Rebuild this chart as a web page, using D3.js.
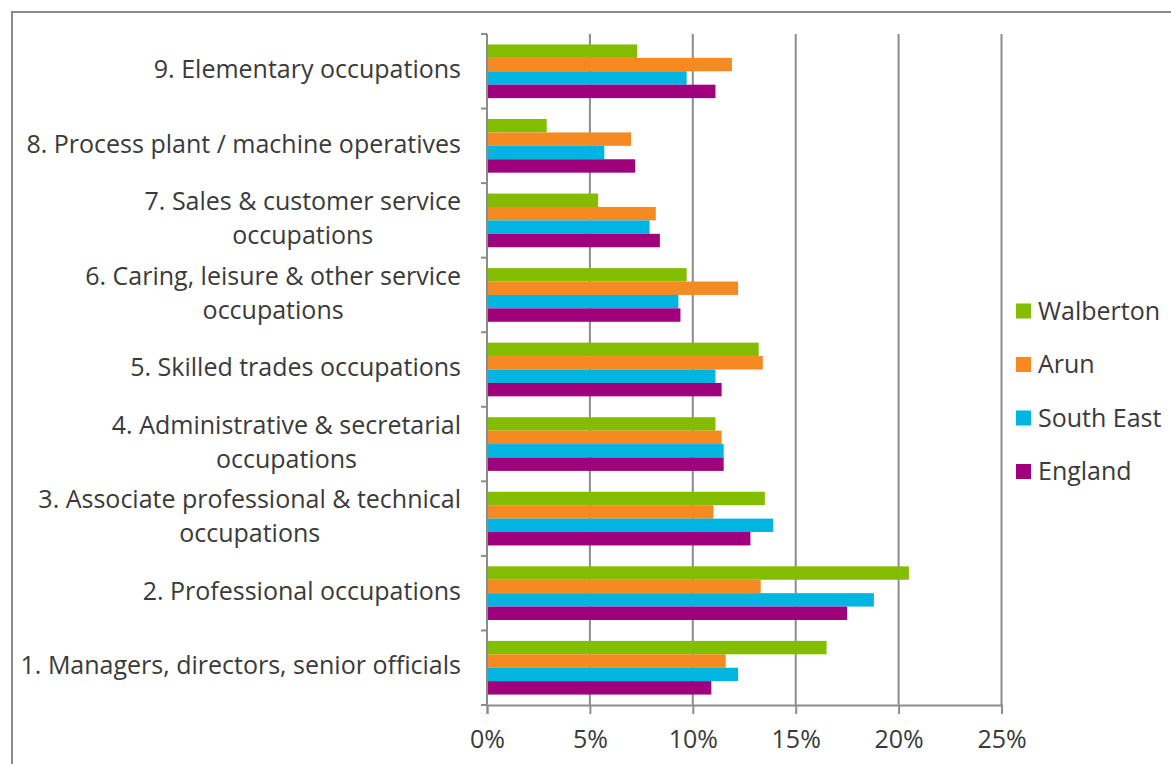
<!DOCTYPE html>
<html>
<head>
<meta charset="utf-8">
<script src="https://cdn.jsdelivr.net/npm/d3@7"></script>
<style>
  body { margin: 0; background: #fff; }
  svg { display: block; }
</style>
</head>
<body>
<svg id="chart"></svg>
<script>
// categories listed bottom (1) to top (9)
const categories = [
    ['1. Managers, directors, senior officials'],
    ['2. Professional occupations'],
    ['3. Associate professional & technical', 'occupations'],
    ['4. Administrative & secretarial', 'occupations'],
    ['5. Skilled trades occupations'],
    ['6. Caring, leisure & other service', 'occupations'],
    ['7. Sales & customer service', 'occupations'],
    ['8. Process plant / machine operatives'],
    ['9. Elementary occupations']
];

const seriesNames = ['Walberton', 'Arun', 'South East', 'England'];

const walberton = [16.5, 20.5, 13.5, 11.1, 13.2, 9.7, 5.4, 2.9, 7.3];
const arun = [11.6, 13.3, 11.0, 11.4, 13.4, 12.2, 8.2, 7.0, 11.9];
const southEast = [12.2, 18.8, 13.9, 11.5, 11.1, 9.3, 7.9, 5.7, 9.7];
const england = [10.9, 17.5, 12.8, 11.5, 11.4, 9.4, 8.4, 7.2, 11.1];

const xTicks = [0, 5, 10, 15, 20, 25];

const width = 1171;
const height = 764;

const margin = { top: 34, right: 170, bottom: 59, left: 487 };
const innerWidth = 514.5;
const innerHeight = height - margin.top - margin.bottom;

const textColor = '#3a3a3a';
const gridColor = '#8c8c8c';
const fontFamily = '"Open Sans", "Noto Sans", sans-serif';
const fontSize = '25px';

const color = d3.scaleOrdinal()
    .domain(seriesNames)
    .range(['#84bd00', '#f58a22', '#00b5e2', '#a0007c']);

const values = [walberton, arun, southEast, england];
const data = categories.map((c, i) => ({
    key: c.join(' '),
    lines: c,
    vals: seriesNames.map((s, j) => ({ series: s, value: values[j][i] }))
}));

const svg = d3.select('#chart')
    .attr('width', width)
    .attr('height', height)
    .style('font-family', fontFamily);

// outer frame (runs off the right and bottom of the picture)
svg.append('path')
    .attr('d', `M12,${height} V12 H${width}`)
    .attr('fill', 'none')
    .attr('stroke', gridColor)
    .attr('stroke-width', 2);

const g = svg.append('g')
    .attr('transform', `translate(${margin.left}, ${margin.top})`);

const xScale = d3.scaleLinear()
    .domain([0, 25])
    .range([0, innerWidth]);

const yScale = d3.scaleBand()
    .domain(data.map(d => d.key).reverse())
    .range([0, innerHeight])
    .paddingInner(0.28)
    .paddingOuter(0.14);

const ySub = d3.scaleBand()
    .domain(seriesNames)
    .range([0, yScale.bandwidth()]);

// vertical gridlines
g.append('g')
    .selectAll('line')
    .data(xTicks.slice(1))
    .enter()
    .append('line')
    .attr('x1', d => xScale(d))
    .attr('x2', d => xScale(d))
    .attr('y1', 0)
    .attr('y2', innerHeight)
    .attr('stroke', gridColor)
    .attr('stroke-width', 2);

// bars
g.append('g')
    .selectAll('g')
    .data(data)
    .enter()
    .append('g')
    .attr('transform', d => `translate(0, ${yScale(d.key)})`)
    .selectAll('rect')
    .data(d => d.vals)
    .enter()
    .append('rect')
    .attr('x', 0)
    .attr('y', d => ySub(d.series))
    .attr('width', d => xScale(d.value))
    .attr('height', ySub.bandwidth())
    .attr('fill', d => color(d.series));

// x axis
const xAxis = d3.axisBottom(xScale)
    .tickValues(xTicks)
    .tickSize(9)
    .tickFormat(d => d + '%');

const xAxisG = g.append('g')
    .attr('transform', `translate(0, ${innerHeight})`)
    .call(xAxis);

xAxisG.select('.domain').attr('stroke', gridColor).attr('stroke-width', 2);
xAxisG.selectAll('.tick line').attr('stroke', gridColor).attr('stroke-width', 2);
xAxisG.selectAll('.tick text')
    .attr('y', 25)
    .attr('fill', textColor)
    .style('font-size', fontSize)
    .style('font-family', fontFamily);

// y axis: line plus ticks at the band boundaries
const step = yScale.step();
const boundaries = d3.range(categories.length + 1).map(i => i * step);

g.append('line')
    .attr('x1', 0).attr('x2', 0)
    .attr('y1', 0).attr('y2', innerHeight)
    .attr('stroke', gridColor)
    .attr('stroke-width', 2);

g.append('g')
    .selectAll('line')
    .data(boundaries)
    .enter()
    .append('line')
    .attr('x1', -6).attr('x2', 0)
    .attr('y1', d => d).attr('y2', d => d)
    .attr('stroke', gridColor)
    .attr('stroke-width', 2);

// category labels
const labelRight = -26;
const lineHeight = 34;

const labels = g.append('g')
    .selectAll('text')
    .data(data)
    .enter()
    .append('text')
    .attr('fill', textColor)
    .style('font-size', fontSize);

labels.each(function (d) {
    const t = d3.select(this);
    const yc = yScale(d.key) + yScale.bandwidth() / 2 - 2;
    const y0 = yc - (d.lines.length - 1) * lineHeight / 2;
    const first = t.append('tspan')
        .attr('x', labelRight)
        .attr('y', y0)
        .attr('dy', '0.35em')
        .attr('text-anchor', 'end')
        .text(d.lines[0]);
    if (d.lines.length > 1) {
        const w = first.node().getComputedTextLength();
        d.lines.slice(1).forEach((line, i) => {
            t.append('tspan')
                .attr('x', labelRight - w / 2)
                .attr('y', y0 + (i + 1) * lineHeight)
                .attr('dy', '0.35em')
                .attr('text-anchor', 'middle')
                .text(line);
        });
    }
});

// legend
const legend = svg.append('g')
    .attr('transform', 'translate(1016, 311)');

const legendItems = legend.selectAll('g')
    .data(seriesNames)
    .enter()
    .append('g')
    .attr('transform', (d, i) => `translate(0, ${i * 53.5})`);

legendItems.append('rect')
    .attr('x', 0)
    .attr('y', -7.5)
    .attr('width', 15)
    .attr('height', 15)
    .attr('fill', d => color(d));

legendItems.append('text')
    .attr('x', 22)
    .attr('y', 0)
    .attr('dy', '0.35em')
    .attr('fill', textColor)
    .style('font-size', fontSize)
    .text(d => d);
</script>
</body>
</html>
